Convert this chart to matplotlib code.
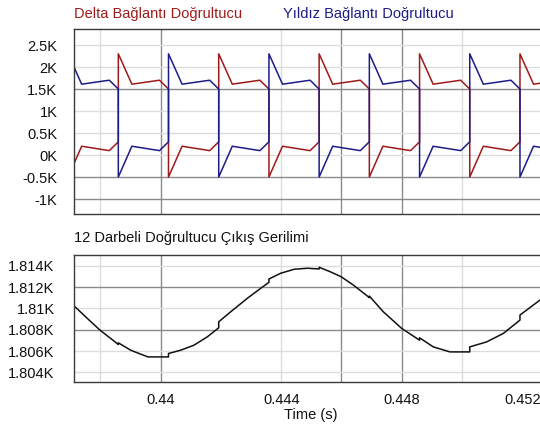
import matplotlib
matplotlib.use("Agg")
import matplotlib.pyplot as plt
from matplotlib.ticker import FuncFormatter

plt.rcParams['font.family'] = ['Liberation Sans', 'DejaVu Sans']

# rectifier outputs: breakpoints (s) shared by both traces
seg_times = [
    0.436926, 0.437376, 0.438293, 0.438593,
    0.438593, 0.439043, 0.439959, 0.440259,
    0.440259, 0.440709, 0.441626, 0.441926,
    0.441926, 0.442376, 0.443293, 0.443593,
    0.443593, 0.444043, 0.444959, 0.445259,
    0.445259, 0.445709, 0.446626, 0.446926,
    0.446926, 0.447376, 0.448293, 0.448593,
    0.448593, 0.449043, 0.449959, 0.450259,
    0.450259, 0.450709, 0.451626, 0.451926,
    0.451926, 0.452376, 0.453293, 0.453593,
]
delta_v = [
    -500, 200, 100, 300,
    2300, 1610, 1700, 1500,
    -500, 200, 100, 300,
    2300, 1610, 1700, 1500,
    -500, 200, 100, 300,
    2300, 1610, 1700, 1500,
    -500, 200, 100, 300,
    2300, 1610, 1700, 1500,
    -500, 200, 100, 300,
    2300, 1610, 1700, 1500,
]
star_v = [
    2300, 1610, 1700, 1500,
    -500, 200, 100, 300,
    2300, 1610, 1700, 1500,
    -500, 200, 100, 300,
    2300, 1610, 1700, 1500,
    -500, 200, 100, 300,
    2300, 1610, 1700, 1500,
    -500, 200, 100, 300,
    2300, 1610, 1700, 1500,
    -500, 200, 100, 300,
]

# 12-pulse output voltage
out_t = [0.437122, 0.437563, 0.437985, 0.438340, 0.438593, 0.438593,
         0.439004, 0.439336, 0.439578, 0.440259, 0.440259, 0.440664,
         0.441105, 0.441547, 0.441926, 0.441926, 0.442324, 0.442875,
         0.443320, 0.443593, 0.443593, 0.443983, 0.444425, 0.444866,
         0.445259, 0.445259, 0.445620, 0.445985, 0.446393, 0.446926,
         0.446926, 0.447389, 0.448000, 0.448593, 0.448593, 0.449049,
         0.449603, 0.450259, 0.450259, 0.450822, 0.451373, 0.451926,
         0.451926, 0.452591]
out_v = [1810.24, 1809.06, 1807.96, 1807.18, 1806.62, 1806.77,
         1806.08, 1805.71, 1805.45, 1805.45, 1805.77, 1806.08,
         1806.55, 1807.33, 1808.18, 1808.74, 1809.68, 1810.94,
         1811.88, 1812.44, 1812.75, 1813.29, 1813.66, 1813.76,
         1813.69, 1813.85, 1813.44, 1812.97, 1812.19, 1811.01,
         1811.15, 1809.68, 1808.12, 1807.02, 1807.24, 1806.39,
         1805.92, 1805.92, 1806.39, 1806.86, 1807.65, 1808.90,
         1809.37, 1810.78]

top_ticks = [-1000, -500, 0, 500, 1000, 1500, 2000, 2500]
bot_ticks = [1804, 1806, 1808, 1810, 1812, 1814]
x_ticks = [0.44, 0.444, 0.448, 0.452]

red = '#9e1a1a'
blue = '#1c1c88'
light = '#dcdcdc'
dark = '#8a8a8a'

fig = plt.figure(figsize=(5.4, 4.25), dpi=100)
ax1 = fig.add_axes([74/540, 1-214/425, 1-74/540, 185/425])
ax2 = fig.add_axes([74/540, 1-382/425, 1-74/540, 127/425])

kfmt = FuncFormatter(lambda v, p: f"{v/1000:g}K")

for ax in (ax1, ax2):
    ax.set_xlim(0.437122, 0.452591)
    ax.spines['right'].set_visible(False)
    for s in ('left', 'top', 'bottom'):
        ax.spines[s].set_color('#3a3a3a')
        ax.spines[s].set_linewidth(1.0)
    ax.tick_params(length=0, labelsize=10.5, colors='#111111')
    ax.yaxis.set_major_formatter(kfmt)
    # vertical grid, light and dark
    for xv in (0.438, 0.444, 0.450):
        ax.axvline(xv, color=light, lw=1.0, zorder=0)
    for xv in (0.44, 0.446, 0.448):
        ax.axvline(xv, color=dark, lw=1.0, zorder=0)

ax1.set_ylim(-1340, 2864)
ax1.set_yticks(top_ticks)
ax1.set_xticks(x_ticks)
ax1.set_xticklabels([])
ax1.tick_params(axis='y', pad=12)
for yv in top_ticks:
    c = dark if yv in (1500, -500, -1000) else light
    ax1.axhline(yv, color=c, lw=1.0, zorder=0)
ax1.plot(seg_times, delta_v, color=red, lw=1.1)
ax1.plot(seg_times, star_v, color=blue, lw=1.1)

ax2.set_ylim(1803.1, 1815.0)
ax2.set_yticks(bot_ticks)
ax2.set_xticks(x_ticks)
ax2.set_xticklabels([f"{v:g}" for v in x_ticks])
ax2.tick_params(axis='y', pad=14)
ax2.tick_params(axis='x', pad=8)
for yv in bot_ticks:
    c = dark if yv in (1812, 1808) else light
    ax2.axhline(yv, color=c, lw=1.0, zorder=0)
ax2.plot(out_t, out_v, color='#111111', lw=1.1)

fig.text(74/540, 1-14/425, 'Delta Bağlantı Doğrultucu', color=red,
         fontsize=10.5, va='center', ha='left')
fig.text(283/540, 1-14/425, 'Yıldız Bağlantı Doğrultucu', color=blue,
         fontsize=10.5, va='center', ha='left')
fig.text(74/540, 1-238/425, '12 Darbeli Doğrultucu Çıkış Gerilimi',
         color='#111111', fontsize=10.5, va='center', ha='left')
fig.text(311/540, 1-415/425, 'Time (s)', color='#111111',
         fontsize=10.5, va='center', ha='center')

fig.savefig('out.png', dpi=100)
